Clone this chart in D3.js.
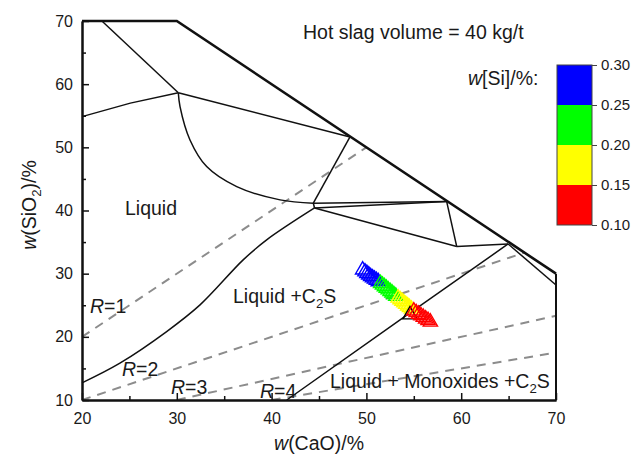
<!DOCTYPE html>
<html><head><meta charset="utf-8">
<script src="https://cdn.jsdelivr.net/npm/d3@7"></script>
<style>
body{margin:0;background:#fff}
svg{display:block}
text{font-family:Arial,"Liberation Sans",sans-serif;fill:#1a1a1a}
</style>
</head><body>
<svg id="chart" width="633" height="457"></svg>
<script>
// ---------- data ----------
const xTicks = [20, 30, 40, 50, 60, 70];
const yTicks = [10, 20, 30, 40, 50, 60, 70];
const xMinor = [25, 35, 45, 55, 65];
const yMinor = [15, 25, 35, 45, 55, 65];

const siLevels = [0.10, 0.15, 0.20, 0.25, 0.30];
const siColors = ["#ff0000", "#ffff00", "#00ff00", "#0000ff"];
const siTickLabels = ["0.10", "0.15", "0.20", "0.25", "0.30"];

// phase-diagram outer boundary (thick)
const outerBoundary = [[20, 70], [30, 70], [70, 30]];
const rightFrame = [[70, 30], [70, 10]];
// internal phase boundaries (CaO, SiO2)
const lineTopLeft = [[22.1, 70], [30.16, 58.65]];
const lineLeft = [[20, 54.86], [25.1, 57.0], [30.16, 58.65]];
const lineUpper = [[30.16, 58.65], [48.27, 51.65]];
const curveLiquidTop = [[30.16, 58.65], [30.34, 56.44], [31.39, 51.17], [33.15, 46.95], [36.32, 43.78], [40.89, 41.68], [44.4, 41.16]];
const lineJ1Up = [[44.4, 41.16], [48.27, 51.65]];
const lineJ1J2 = [[44.4, 41.16], [44.53, 40.4]];
const curveC2S = [[20, 12.72], [24.0, 15.84], [28.93, 20.84], [32.45, 25.06], [37.0, 32.18], [39.48, 35.35], [44.53, 40.4]];
const lineMidUpper = [[44.4, 41.16], [58.47, 41.41]];
const lineMidLower = [[44.53, 40.4], [58.47, 41.41]];
const lineKL = [[58.47, 41.41], [59.53, 34.29]];
const lineJ2L = [[44.53, 40.4], [59.53, 34.29]];
const lineLM = [[59.53, 34.29], [64.95, 34.7]];
const lineMInner = [[64.95, 34.7], [70, 28.2]];
const lineMono = [[64.95, 34.7], [53.55, 22.69], [41.6, 10]];
const phaseLines = [lineTopLeft, lineLeft, lineUpper, lineJ1Up, lineJ1J2, lineMidUpper, lineMidLower, lineKL, lineJ2L, lineLM, lineMInner, lineMono];
const phaseCurves = [curveLiquidTop, curveC2S];

// basicity lines R = CaO/SiO2
const ratioNames = ["1", "2", "3", "4"];
const ratioLines = [
  [[20, 20], [50, 50]],
  [[20, 10], [66.67, 33.33]],
  [[30, 10], [70, 23.33]],
  [[40, 10], [70, 17.5]]
];

// calculated slag compositions
const caoVals = [49.6, 49.85, 50.05, 50.25, 50.45, 50.65, 50.85, 51.05, 51.25,
                 51.5, 51.7, 51.9, 52.1, 52.3, 52.5, 52.7, 52.9, 53.1,
                 53.35, 53.55, 53.75, 53.95, 54.15, 54.35, 54.55, 54.75,
                 55.0, 55.25, 55.5, 55.75, 56.0, 56.25, 56.5, 56.75];
const sio2Vals = [30.6, 30.3, 30.05, 29.8, 29.55, 29.35, 29.15, 28.95, 28.75,
                  28.45, 28.2, 27.95, 27.7, 27.45, 27.2, 26.95, 26.7, 26.45,
                  26.15, 25.9, 25.65, 25.4, 25.15, 24.9, 24.65, 24.4,
                  24.1, 23.85, 23.6, 23.35, 23.1, 22.85, 22.6, 22.35];
const siVals = [0.300, 0.295, 0.290, 0.285, 0.280, 0.275, 0.270, 0.265, 0.260,
                0.245, 0.240, 0.235, 0.230, 0.225, 0.220, 0.215, 0.210, 0.205,
                0.195, 0.190, 0.185, 0.180, 0.175, 0.170, 0.165, 0.160,
                0.145, 0.140, 0.135, 0.130, 0.125, 0.120, 0.115, 0.110];
const blackPoint = [54.6, 23.5];

// ---------- drawing ----------
const svg = d3.select("#chart");
const x = d3.scaleLinear().domain([20, 70]).range([82, 556]);
const y = d3.scaleLinear().domain([10, 70]).range([400, 21]);
const line = d3.line().x(d => x(d[0])).y(d => y(d[1]));
const curve = d3.line().x(d => x(d[0])).y(d => y(d[1])).curve(d3.curveCatmullRom.alpha(0.5));

// dashed basicity lines
svg.append("g").selectAll("path").data(ratioLines).join("path")
  .attr("d", line).attr("fill", "none").attr("stroke", "#8c8c8c")
  .attr("stroke-width", 2).attr("stroke-dasharray", "9,7");

// phase boundaries
svg.append("g").selectAll("path").data(phaseLines).join("path")
  .attr("d", line).attr("fill", "none").attr("stroke", "#111").attr("stroke-width", 1.5);
svg.append("g").selectAll("path").data(phaseCurves).join("path")
  .attr("d", curve).attr("fill", "none").attr("stroke", "#111").attr("stroke-width", 1.5);
svg.append("path").datum(outerBoundary).attr("d", line)
  .attr("fill", "none").attr("stroke", "#111").attr("stroke-width", 2.6);
svg.append("path").datum(rightFrame).attr("d", line)
  .attr("fill", "none").attr("stroke", "#111").attr("stroke-width", 2);

// axes
const fmt = d3.format("d");
const gx = svg.append("g").attr("transform", `translate(0,${y(10)})`)
  .call(d3.axisBottom(x).tickValues(xTicks).tickFormat(fmt).tickSize(-7).tickSizeOuter(0).tickPadding(13));
const gxm = svg.append("g").attr("transform", `translate(0,${y(10)})`)
  .call(d3.axisBottom(x).tickValues(xMinor).tickFormat("").tickSize(-4).tickSizeOuter(0));
const gy = svg.append("g").attr("transform", `translate(${x(20)},0)`)
  .call(d3.axisLeft(y).tickValues(yTicks).tickFormat(fmt).tickSize(-7).tickSizeOuter(0).tickPadding(9));
const gym = svg.append("g").attr("transform", `translate(${x(20)},0)`)
  .call(d3.axisLeft(y).tickValues(yMinor).tickFormat("").tickSize(-4).tickSizeOuter(0));
[gx, gxm, gy, gym].forEach(g => {
  g.select(".domain").attr("stroke", "#111").attr("stroke-width", 2);
  g.selectAll(".tick line").attr("stroke", "#111").attr("stroke-width", 1.5);
  g.selectAll("text").attr("font-size", 16).attr("fill", "#1a1a1a")
    .attr("font-family", "Arial, 'Liberation Sans', sans-serif");
});

// markers
const colorOf = d3.scaleThreshold().domain([0.15, 0.20, 0.25]).range(siColors);
const tri = d3.symbol().type(d3.symbolTriangle).size(88);
const pts = caoVals.map((c, i) => ({c, s: sio2Vals[i], si: siVals[i]}));
const mk = svg.append("g");
mk.selectAll("path.pt").data(pts.filter(p => p.si >= 0.15)).join("path").attr("class", "pt")
  .attr("d", tri).attr("transform", d => `translate(${x(d.c)},${y(d.s)})`)
  .attr("fill", "none").attr("stroke", d => colorOf(d.si)).attr("stroke-width", 1.4);
mk.append("path").attr("d", tri).attr("transform", `translate(${x(blackPoint[0])},${y(blackPoint[1])})`)
  .attr("fill", "none").attr("stroke", "#000").attr("stroke-width", 1.4);
mk.selectAll("path.pr").data(pts.filter(p => p.si < 0.15)).join("path").attr("class", "pr")
  .attr("d", tri).attr("transform", d => `translate(${x(d.c)},${y(d.s)})`)
  .attr("fill", "none").attr("stroke", d => colorOf(d.si)).attr("stroke-width", 1.4);

// colour bar
const cb = d3.scaleLinear().domain([0.10, 0.30]).range([225, 65]);
const cbg = svg.append("g");
cbg.selectAll("rect").data(siColors).join("rect")
  .attr("x", 557).attr("width", 35)
  .attr("y", (d, i) => cb(siLevels[i + 1]))
  .attr("height", (d, i) => cb(siLevels[i]) - cb(siLevels[i + 1]))
  .attr("fill", d => d);
cbg.append("rect").attr("x", 557).attr("y", cb(0.30)).attr("width", 35)
  .attr("height", cb(0.10) - cb(0.30)).attr("fill", "none").attr("stroke", "#444").attr("stroke-width", 1);
const cba = cbg.append("g").attr("transform", "translate(592,0)")
  .call(d3.axisRight(cb).tickValues(siLevels).tickFormat((d, i) => siTickLabels[i]).tickSize(5).tickPadding(4));
cba.select(".domain").remove();
cba.selectAll(".tick line").attr("stroke", "#444");
cba.selectAll("text").attr("font-size", 15).attr("fill", "#1a1a1a")
  .attr("font-family", "Arial, 'Liberation Sans', sans-serif");

// texts
const T = 19.5;
function sub(sel, before, s, after) {
  sel.append("tspan").text(before);
  sel.append("tspan").attr("font-size", T * 0.68).attr("dy", 5).text(s);
  sel.append("tspan").attr("dy", -5).text(after);
}
svg.append("text").attr("x", 303).attr("y", 39).attr("font-size", T).text("Hot slag volume = 40 kg/t");
const ws = svg.append("text").attr("x", 468).attr("y", 85).attr("font-size", T);
ws.append("tspan").attr("font-style", "italic").text("w");
ws.append("tspan").text("[Si]/%:");

svg.append("text").attr("x", 125).attr("y", 215).attr("font-size", T).text("Liquid");
sub(svg.append("text").attr("x", 233).attr("y", 303).attr("font-size", T), "Liquid +C", "2", "S");
sub(svg.append("text").attr("x", 330).attr("y", 388).attr("font-size", T), "Liquid + Monoxides +C", "2", "S");

const rPos = [[90, 313], [122, 376], [171, 394], [260, 398]];
ratioNames.forEach((r, i) => {
  const t = svg.append("text").attr("x", rPos[i][0]).attr("y", rPos[i][1]).attr("font-size", T);
  t.append("tspan").attr("font-style", "italic").text("R");
  t.append("tspan").text("=" + r);
});

const xt = svg.append("text").attr("x", 319).attr("y", 450).attr("text-anchor", "middle").attr("font-size", T);
xt.append("tspan").attr("font-style", "italic").text("w");
xt.append("tspan").text("(CaO)/%");

const yt = svg.append("text").attr("transform", "translate(36,205) rotate(-90)")
  .attr("text-anchor", "middle").attr("font-size", T);
yt.append("tspan").attr("font-style", "italic").text("w");
sub(yt, "(SiO", "2", ")/%");
</script>
</body></html>
